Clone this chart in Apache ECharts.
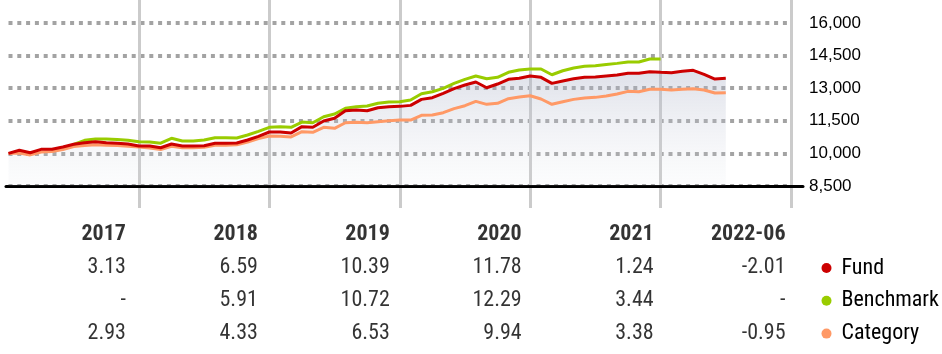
<!DOCTYPE html>
<html>
<head>
<meta charset="utf-8">
<script src="https://cdn.jsdelivr.net/npm/echarts@6/dist/echarts.min.js"></script>
<style>
    html, body { margin: 0; padding: 0; background: #fff; }
    #chart { width: 942px; height: 354px; }
</style>
</head>
<body>
<div id="chart"></div>
<script>

// Growth of 10,000, month-end values from Dec 2016 (index 0) to Jun 2022 (index 66)
var fund = [
    10000, 10142, 10032, 10188, 10188, 10294, 10418, 10492, 10538, 10492, 10464, 10432,
    10340, 10340, 10262, 10432, 10340, 10340, 10355, 10463, 10463, 10478, 10616, 10786,
    10984, 10984, 10938, 11230, 11200, 11490, 11614, 11964, 11996, 11964, 12102, 12148,
    12164, 12210, 12486, 12562, 12762, 12980, 13146, 13284, 13022, 13192, 13408, 13454,
    13560, 13500, 13222, 13330, 13436, 13500, 13514, 13560, 13606, 13684, 13684, 13760,
    13730, 13714, 13776, 13822, 13638, 13422, 13454
];

var benchmark = [
    null, null, null, null, null, null, 10418, 10600, 10660, 10660, 10640, 10600,
    10540, 10520, 10470, 10694, 10570, 10570, 10616, 10724, 10724, 10709, 10846, 11016,
    11200, 11229, 11200, 11440, 11412, 11688, 11812, 12074, 12148, 12180, 12304, 12364,
    12380, 12456, 12746, 12838, 12992, 13222, 13408, 13560, 13436, 13500, 13730, 13836,
    13882, 13882, 13620, 13804, 13928, 14006, 14034, 14090, 14142, 14204, 14204, 14342,
    14342
];

var category = [
    10000, 10020, 9930, 10060, 10090, 10180, 10320, 10360, 10400, 10380, 10360, 10330,
    10293, 10250, 10180, 10330, 10260, 10260, 10280, 10370, 10380, 10400, 10520, 10680,
    10800, 10790, 10760, 11000, 10970, 11200, 11154, 11412, 11430, 11412, 11458, 11504,
    11536, 11536, 11752, 11766, 11872, 12060, 12194, 12396, 12258, 12304, 12516, 12594,
    12654, 12502, 12258, 12380, 12486, 12548, 12578, 12640, 12732, 12854, 12838, 12948,
    12948, 12916, 12948, 12976, 12916, 12778, 12792
];

// Value axis ticks
var yMin = 8500;
var yMax = 16000;
var yStep = 1500;

// Annual returns table
var years = ['2017', '2018', '2019', '2020', '2021', '2022-06'];
var fundReturns = [3.13, 6.59, 10.39, 11.78, 1.24, -2.01];
var benchmarkReturns = [null, 5.91, 10.72, 12.29, 3.44, null];
var categoryReturns = [2.93, 4.33, 6.53, 9.94, 3.38, -0.95];
var seriesNames = ['Fund', 'Benchmark', 'Category'];

var narrowFont = "'Liberation Sans Narrow', 'Arial Narrow', 'Roboto Condensed', 'DejaVu Sans Condensed', sans-serif";

function toPairs(arr) {
    var out = [];
    arr.forEach(function (v, i) {
        if (v !== null) out.push([i, v]);
    });
    return out;
}

// Table cells: [column, row, text]
var tableCells = [];
years.forEach(function (y, i) {
    tableCells.push({ value: [i, 0, y], label: { fontWeight: 'bold' } });
});
[fundReturns, benchmarkReturns, categoryReturns].forEach(function (row, r) {
    row.forEach(function (v, i) {
        tableCells.push({ value: [i, r + 1, v === null ? '-' : v.toFixed(2)] });
    });
});

var chart = echarts.init(document.getElementById('chart'));

chart.setOption({
    animation: false,

    textStyle: {
        fontFamily: 'Liberation Sans, Arial, sans-serif'
    },

    grid: [
        // year separators, running past the plot
        { left: 8.5, right: 151, top: 0, bottom: 146 },
        // plot area
        { left: 8.5, right: 151, top: 23, bottom: 168 },
        // baseline and value labels
        { left: 6, right: 139, top: 23, bottom: 168 },
        // returns table
        { left: 60, right: 90.5, top: 218.4, bottom: 4.4 }
    ],

    legend: {
        data: seriesNames,
        orient: 'vertical',
        left: 816.5,
        top: 252,
        icon: 'circle',
        itemWidth: 10,
        itemHeight: 10,
        itemGap: 10.8,
        selectedMode: false,
        textStyle: {
            fontFamily: narrowFont,
            fontSize: 22,
            lineHeight: 22,
            color: '#000',
            padding: [0, 0, 0, 5]
        }
    },

    xAxis: [
        {
            gridIndex: 0,
            type: 'value',
            min: 0,
            max: 72,
            interval: 12,
            axisLine: { show: false },
            axisTick: { show: false },
            axisLabel: { show: false },
            splitLine: {
                show: true,
                showMinLine: false,
                lineStyle: { color: '#cbcbcb', width: 3 }
            }
        },
        { gridIndex: 1, type: 'value', min: 0, max: 72, show: false },
        {
            gridIndex: 2,
            type: 'value',
            min: 0,
            max: 1,
            axisLine: { show: true, onZero: false, lineStyle: { color: '#000', width: 3 } },
            axisTick: { show: false },
            axisLabel: { show: false },
            splitLine: { show: false }
        },
        { gridIndex: 3, type: 'category', data: years, show: false }
    ],

    yAxis: [
        { gridIndex: 0, type: 'value', show: false },
        {
            gridIndex: 1,
            type: 'value',
            min: yMin,
            max: yMax,
            interval: yStep,
            axisLine: { show: false },
            axisTick: { show: false },
            axisLabel: { show: false },
            splitLine: {
                show: true,
                lineStyle: { color: '#a3a3a3', width: 4, type: [4, 4.8] }
            }
        },
        {
            gridIndex: 2,
            type: 'value',
            position: 'right',
            min: yMin,
            max: yMax,
            interval: yStep,
            axisLine: { show: false },
            axisTick: { show: false },
            splitLine: { show: false },
            axisLabel: {
                margin: 6,
                color: '#000',
                fontSize: 17,
                formatter: function (v) {
                    return v.toLocaleString('en-US');
                }
            }
        },
        { gridIndex: 3, type: 'category', data: ['head', 'Fund', 'Benchmark', 'Category'], inverse: true, show: false }
    ],

    series: [
        {
            name: 'FundArea',
            type: 'line',
            xAxisIndex: 1,
            yAxisIndex: 1,
            data: toPairs(fund),
            symbol: 'none',
            silent: true,
            lineStyle: { width: 0 },
            areaStyle: {
                origin: 'start',
                color: new echarts.graphic.LinearGradient(0, 0, 0, 1, [
                    { offset: 0, color: 'rgba(170,176,198,0.55)' },
                    { offset: 1, color: 'rgba(220,224,232,0.12)' }
                ])
            }
        },
        {
            name: 'Category',
            type: 'line',
            xAxisIndex: 1,
            yAxisIndex: 1,
            data: toPairs(category),
            symbol: 'none',
            color: '#ff9966',
            lineStyle: { width: 3 }
        },
        {
            name: 'Benchmark',
            type: 'line',
            xAxisIndex: 1,
            yAxisIndex: 1,
            data: toPairs(benchmark),
            symbol: 'none',
            color: '#99cc00',
            lineStyle: { width: 3 }
        },
        {
            name: 'Fund',
            type: 'line',
            xAxisIndex: 1,
            yAxisIndex: 1,
            data: toPairs(fund),
            symbol: 'none',
            color: '#cc0000',
            lineStyle: { width: 3 }
        },
        {
            name: 'Table',
            type: 'scatter',
            xAxisIndex: 3,
            yAxisIndex: 3,
            data: tableCells,
            symbolSize: 0,
            silent: true,
            label: {
                show: true,
                position: 'left',
                distance: 0,
                fontFamily: narrowFont,
                fontSize: 22,
                color: '#000',
                formatter: function (p) {
                    return p.value[2];
                }
            }
        }
    ]
});

</script>
</body>
</html>
